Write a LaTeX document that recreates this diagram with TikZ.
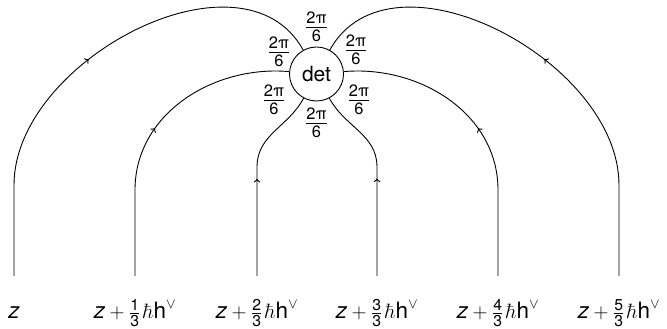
\documentclass[tikz,border=0pt]{standalone}
\usepackage{amsmath}
\usepackage[no-math]{fontspec}
\setmainfont{TeX Gyre Heros}
\usetikzlibrary{decorations.markings}
\begin{document}
\begin{tikzpicture}[x=1pt,y=1pt,
  wire/.style={line width=0.9pt,postaction={decorate},
    decoration={markings,mark=at position 0.5 with {\arrow[scale=1.3]{>}}}},
  lbl/.style={font=\fontsize{22.5}{26}\selectfont,anchor=base},
  ang/.style={font=\fontsize{23.5}{27}\selectfont,inner sep=0pt}]
\useasboundingbox (0,0) rectangle (667,329);
\node[draw,circle,line width=0.9pt,minimum size=54pt,inner sep=0pt,
  font=\fontsize{21}{25}\selectfont] (det) at (316.5,255) {det};
% bottom ends and turning points
\coordinate (b1) at (14,53);   \coordinate (t1) at (14,144);
\coordinate (b2) at (135,53);  \coordinate (t2) at (135,139);
\coordinate (b3) at (257,53);  \coordinate (t3) at (257,162);
\coordinate (b4) at (377,53);  \coordinate (t4) at (377,162);
\coordinate (b5) at (498,53);  \coordinate (t5) at (498,139);
\coordinate (b6) at (619,53);  \coordinate (t6) at (619,144);
\draw[wire] (b1) -- (t1) to[out=90,in=119] (det.119);
\draw[wire] (b2) -- (t2) to[out=90,in=175] (det.175);
\draw[wire] (b3) -- (t3) to[out=90,in=242] (det.242);
\draw[wire] (b4) -- (t4) to[out=90,in=298] (det.298);
\draw[wire] (b5) -- (t5) to[out=90,in=5] (det.5);
\draw[wire] (b6) -- (t6) to[out=90,in=61] (det.61);
% angle labels
\node[ang] (a1) at (316.5,302) {$\frac{\text{2π}}{\text{6}}$};
\node[ang] (a2) at (279,277) {$\frac{\text{2π}}{\text{6}}$};
\node[ang] (a3) at (356,279) {$\frac{\text{2π}}{\text{6}}$};
\node[ang] (a4) at (274,229) {$\frac{\text{2π}}{\text{6}}$};
\node[ang] (a5) at (359,229) {$\frac{\text{2π}}{\text{6}}$};
\node[ang] (a6) at (316.5,206) {$\frac{\text{2π}}{\text{6}}$};
% bottom labels
\node[lbl] (l1) at (14,10) {$\textit{z}$};
\node[lbl] (l2) at (135,10) {$\textit{z} + \frac{\text{1}}{\text{3}}\mkern2mu\hbar\text{h}^{\vee}$};
\node[lbl] (l3) at (257,10) {$\textit{z} + \frac{\text{2}}{\text{3}}\mkern2mu\hbar\text{h}^{\vee}$};
\node[lbl] (l4) at (377,10) {$\textit{z} + \frac{\text{3}}{\text{3}}\mkern2mu\hbar\text{h}^{\vee}$};
\node[lbl] (l5) at (498,10) {$\textit{z} + \frac{\text{4}}{\text{3}}\mkern2mu\hbar\text{h}^{\vee}$};
\node[lbl] (l6) at (619,10) {$\textit{z} + \frac{\text{5}}{\text{3}}\mkern2mu\hbar\text{h}^{\vee}$};
\end{tikzpicture}
\end{document}
